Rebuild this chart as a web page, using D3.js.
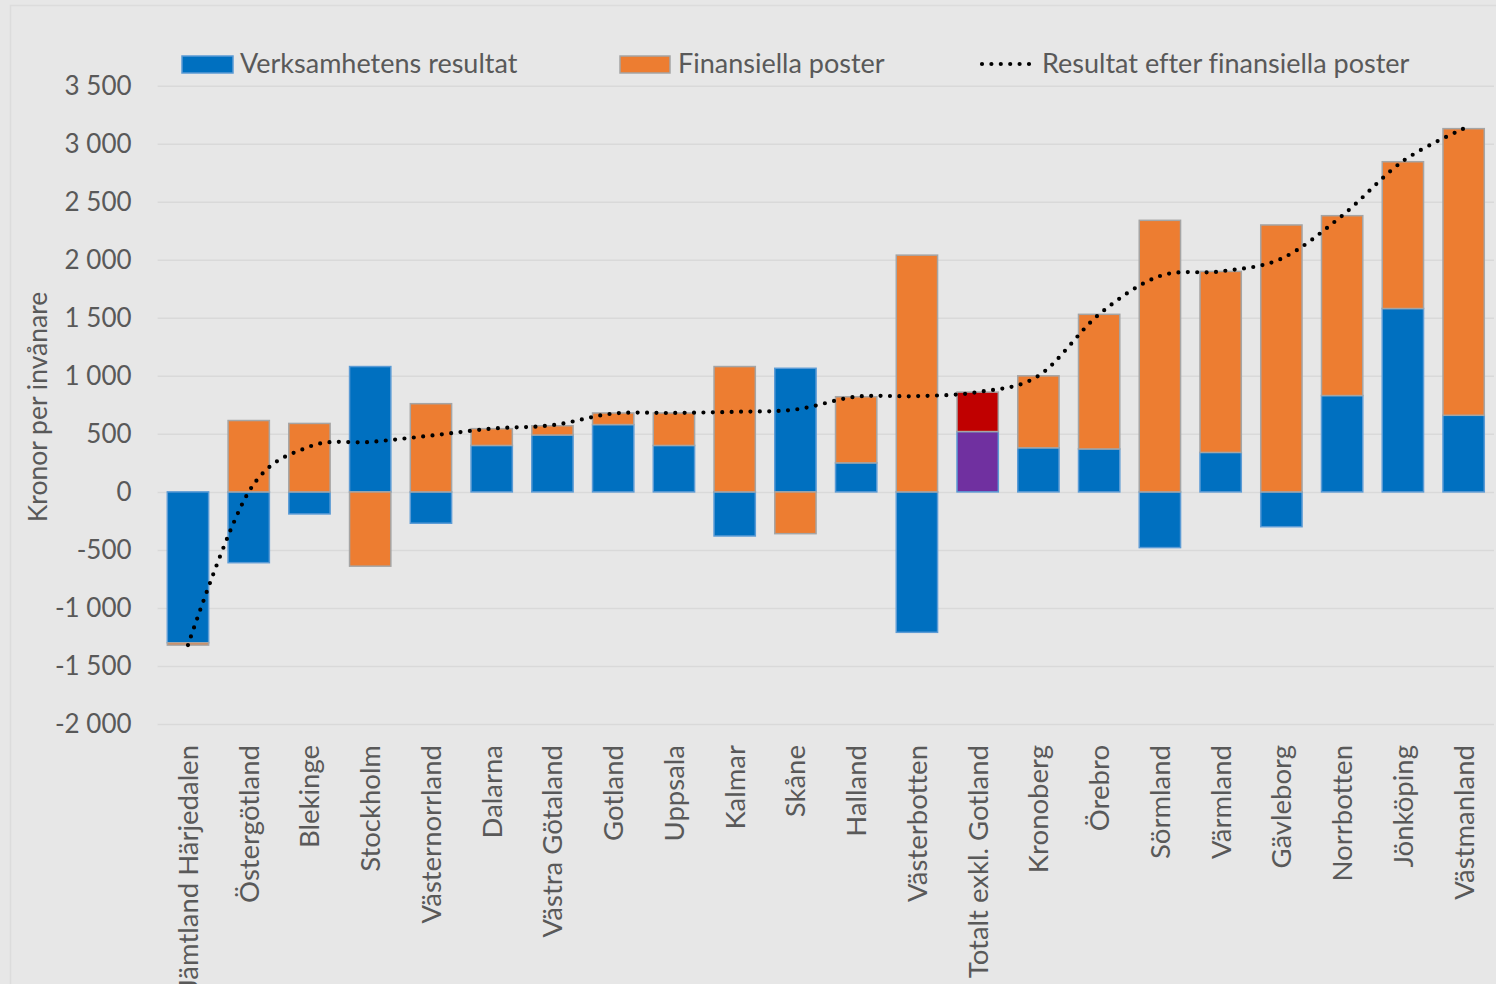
<!DOCTYPE html>
<html>
<head>
<meta charset="utf-8">
<script src="https://cdn.jsdelivr.net/npm/d3@7"></script>
<style>
  html, body { margin: 0; padding: 0; background: #e7e7e7; }
  svg { display: block; }
  text { font-family: Lato, "Open Sans", sans-serif; fill: #595959; font-variant-ligatures: none; }
</style>
</head>
<body>
<svg id="chart" width="1496" height="984"></svg>
<script>
const categories = ["Jämtland Härjedalen","Östergötland","Blekinge","Stockholm","Västernorrland","Dalarna","Västra Götaland","Gotland","Uppsala","Kalmar","Skåne","Halland","Västerbotten","Totalt exkl. Gotland","Kronoberg","Örebro","Sörmland","Värmland","Gävleborg","Norrbotten","Jönköping","Västmanland"];
const verksamhet = [-1300,-610,-190,1080,-270,400,490,580,400,-380,1065,250,-1210,520,380,370,-480,340,-300,830,1580,660];
const finansiella = [-20,615,590,-640,760,145,80,100,280,1080,-360,570,2040,340,620,1160,2340,1560,2300,1550,1265,2470];
const resultat = [-1320,0,390,430,485,545,575,675,680,690,710,820,825,860,1000,1530,1860,1900,2010,2380,2850,3130];
const yTicks = [-2000,-1500,-1000,-500,0,500,1000,1500,2000,2500,3000,3500];
const seriesNames = ["Verksamhetens resultat","Finansiella poster","Resultat efter finansiella poster"];
const highlightCategory = "Totalt exkl. Gotland";

const svg = d3.select("#chart");
const W = 1496, H = 984;

svg.append("rect").attr("x", 10.5).attr("y", 5.5).attr("width", W).attr("height", H)
  .attr("fill", "#e7e7e7").attr("stroke", "#dcdcdc").attr("stroke-width", 1.5);

const x = d3.scaleBand().domain(categories).range([157.6, 1494])
  .paddingInner(0.32).paddingOuter(0.16);
const y = d3.scaleLinear().domain([-2000, 3500]).range([724, 85.7]);

const locale = d3.formatLocale({decimal: ",", thousands: "\u00a0", grouping: [3], currency: ["", ""], minus: "-"});
const fmt = locale.format(",");

// y axis + gridlines
const yAxis = d3.axisLeft(y).tickValues(yTicks).tickFormat(fmt)
  .tickSize(-(1494 - 157.6)).tickPadding(26);
const gy = svg.append("g").attr("transform", "translate(157.6,0)").call(yAxis);
gy.select(".domain").remove();
gy.selectAll(".tick line").attr("stroke", "#d9d9d9").attr("stroke-width", 1.5);
gy.selectAll(".tick text").attr("font-size", 26).attr("fill", "#595959")
  .style("font-family", "Lato, sans-serif");

// stacked bars
const rows = categories.map((c, i) => ({cat: c, v: verksamhet[i], f: finansiella[i]}));
const stack = d3.stack().keys(["v", "f"]).offset(d3.stackOffsetDiverging);
const stacked = stack(rows);

const fills = {v: "#0070c0", f: "#ed7d31"};
const strokes = {v: "#5b9bd5", f: "#a5a5a5"};
const hiFills = {v: "#7030a0", f: "#c00000"};

stacked.forEach(layer => {
  svg.append("g").selectAll("rect").data(layer).join("rect")
    .attr("x", d => x(d.data.cat))
    .attr("width", x.bandwidth())
    .attr("y", d => y(Math.max(d[0], d[1])))
    .attr("height", d => Math.abs(y(d[0]) - y(d[1])))
    .attr("fill", d => d.data.cat === highlightCategory ? hiFills[layer.key] : fills[layer.key])
    .attr("stroke", strokes[layer.key])
    .attr("stroke-width", 1.5);
});

// smoothed dotted line
const line = d3.line()
  .x((d, i) => x(categories[i]) + x.bandwidth() / 2)
  .y(d => y(d))
  .curve(d3.curveCardinal.tension(0));
svg.append("path").datum(resultat).attr("d", line)
  .attr("fill", "none").attr("stroke", "#000").attr("stroke-width", 4.2)
  .attr("stroke-linecap", "round").attr("stroke-dasharray", "0 9.4");

// category labels
svg.append("g").selectAll("text").data(categories).join("text")
  .attr("transform", d => `translate(${x(d) + x.bandwidth() / 2},745) rotate(-90)`)
  .attr("text-anchor", "end").attr("dy", "0.36em")
  .attr("font-size", 27.5).text(d => d);

// y axis title
svg.append("text").attr("transform", "translate(37,407) rotate(-90)")
  .attr("text-anchor", "middle").attr("dy", "0.36em").attr("font-size", 26.5)
  .text("Kronor per invånare");

// legend
const lg = svg.append("g");
lg.append("rect").attr("x", 182).attr("y", 56).attr("width", 51).attr("height", 17)
  .attr("fill", fills.v).attr("stroke", strokes.v).attr("stroke-width", 1.5);
lg.append("text").attr("x", 240).attr("y", 73).attr("font-size", 27).text(seriesNames[0]);
lg.append("rect").attr("x", 620).attr("y", 56).attr("width", 50).attr("height", 17)
  .attr("fill", fills.f).attr("stroke", strokes.f).attr("stroke-width", 1.5);
lg.append("text").attr("x", 678).attr("y", 73).attr("font-size", 27).text(seriesNames[1]);
lg.append("line").attr("x1", 982).attr("x2", 1030).attr("y1", 64).attr("y2", 64)
  .attr("stroke", "#000").attr("stroke-width", 4.2).attr("stroke-linecap", "round")
  .attr("stroke-dasharray", "0 9.4");
lg.append("text").attr("x", 1042).attr("y", 73).attr("font-size", 27).text(seriesNames[2]);
</script>
</body>
</html>
